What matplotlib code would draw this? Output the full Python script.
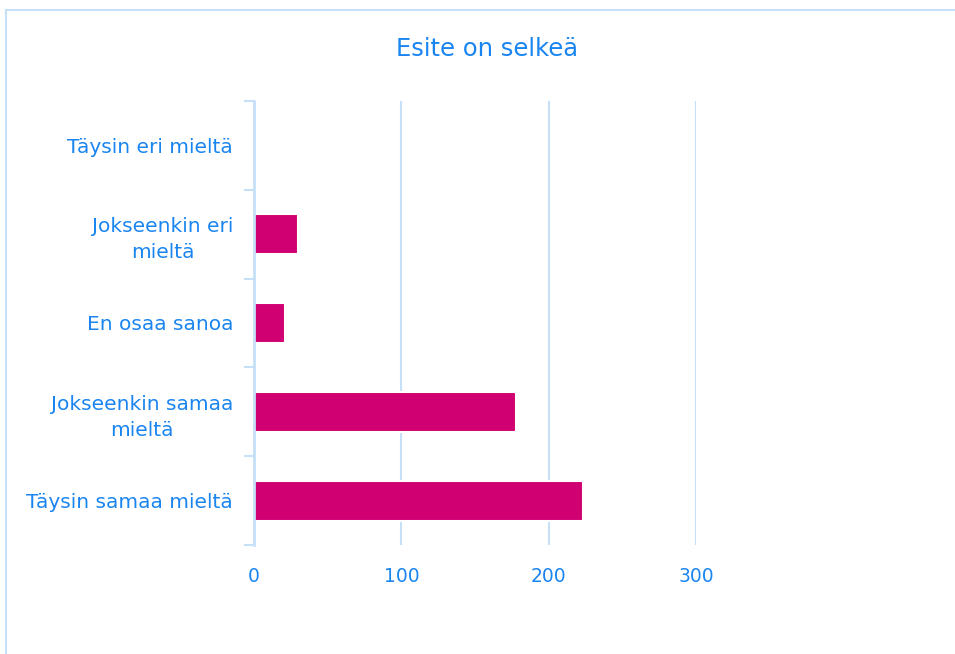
import matplotlib.pyplot as plt
from matplotlib.lines import Line2D

categories = ["Täysin eri mieltä", "Jokseenkin eri\nmieltä", "En osaa sanoa",
              "Jokseenkin samaa\nmieltä", "Täysin samaa mieltä"]
values = [0, 30, 21, 178, 223]
xticks = [0, 100, 200, 300]

text_color = "#1a85f0"
bar_color = "#d10072"
line_color = "#c6e0f8"

fig = plt.figure(figsize=(9.55, 6.54), dpi=100)
ax = fig.add_axes([0.266, 0.1667, 0.463, 0.679])

pos = list(range(len(categories)))
ax.barh(pos, values, height=0.45, color=bar_color, edgecolor="white",
        linewidth=1.5, zorder=3)
ax.set_ylim(len(categories) - 0.5, -0.5)
ax.set_xlim(0, 300)

ax.set_yticks(pos)
ax.set_yticklabels(categories, color=text_color, fontsize=14.5,
                   multialignment="center", linespacing=1.45)
ax.set_yticks([p - 0.5 for p in pos] + [len(pos) - 0.5], minor=True)
ax.tick_params(axis="y", which="major", length=0, pad=15)
ax.tick_params(axis="y", which="minor", length=7, width=1.5, color=line_color)

ax.set_xticks(xticks)
ax.set_xticklabels([str(t) for t in xticks], color=text_color, fontsize=13.5)
ax.tick_params(axis="x", length=0, pad=16)
ax.grid(axis="x", color=line_color, linewidth=1.5, zorder=0)

for s in ["top", "right", "bottom"]:
    ax.spines[s].set_visible(False)
ax.spines["left"].set_color(line_color)
ax.spines["left"].set_linewidth(2)
ax.spines["left"].set_zorder(4)

fig.text(0.51, 0.925, "Esite on selkeä", ha="center", va="center",
         color=text_color, fontsize=17.5)

# outer frame (top and left edges visible)
fig.add_artist(Line2D([0.0063, 1.0], [0.985, 0.985], color=line_color, linewidth=1.5))
fig.add_artist(Line2D([0.0063, 0.0063], [0.0, 0.985], color=line_color, linewidth=1.5))

fig.savefig("out.png", dpi=100)
